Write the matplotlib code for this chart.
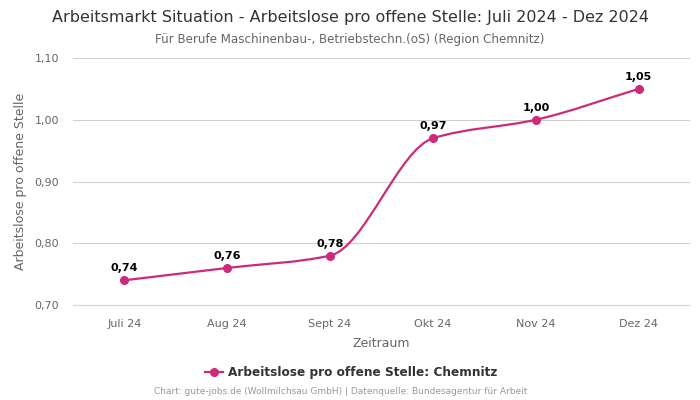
import matplotlib.pyplot as plt
import numpy as np
from matplotlib.path import Path
from matplotlib.patches import PathPatch

# Daten
monate = ["Juli 24", "Aug 24", "Sept 24", "Okt 24", "Nov 24", "Dez 24"]
werte = [0.74, 0.76, 0.78, 0.97, 1.00, 1.05]
farbe = "#cc2b7a"

plt.rcParams['font.family'] = ['DejaVu Sans']

fig = plt.figure(figsize=(7, 4), dpi=100)
ax = fig.add_axes([0.104, 0.2375, 0.882, 0.6175])

x = np.arange(len(werte), dtype=float)
y = np.array(werte)

# glatte Linie (monotone kubische Kurve, nur Darstellung)
d = np.diff(y) / np.diff(x)
m = np.zeros_like(y)
m[0], m[-1] = d[0], d[-1]
for i in range(1, len(y) - 1):
    if d[i - 1] * d[i] > 0:
        m[i] = 2 / (1 / d[i - 1] + 1 / d[i])
verts = [(x[0], y[0])]
codes = [Path.MOVETO]
for i in range(len(y) - 1):
    h = x[i + 1] - x[i]
    verts += [(x[i] + h / 3, y[i] + m[i] * h / 3),
              (x[i + 1] - h / 3, y[i + 1] - m[i + 1] * h / 3),
              (x[i + 1], y[i + 1])]
    codes += [Path.CURVE4] * 3
ax.add_patch(PathPatch(Path(verts, codes), facecolor="none", edgecolor=farbe, lw=1.6, zorder=3))
ax.plot(x, y, "o", color=farbe, ms=5.5, zorder=4)
# Legenden-Eintrag
ax.plot([], [], "-o", color=farbe, ms=5.5, lw=1.6, label="Arbeitslose pro offene Stelle: Chemnitz")

for xi, yi in zip(x, y):
    ax.annotate(f"{yi:.2f}".replace(".", ","), (xi, yi), xytext=(0, 5), textcoords="offset points",
                ha="center", va="bottom", fontsize=8, fontweight="bold", color="black")

ax.set_xlim(-0.5, 5.5)
ax.set_ylim(0.70, 1.10)
ax.set_xticks(x)
ax.set_xticklabels(monate)
yt = [0.70, 0.80, 0.90, 1.00, 1.10]
ax.set_yticks(yt)
ax.set_yticklabels([f"{v:.2f}".replace(".", ",") for v in yt])
ax.tick_params(axis="both", length=0, labelsize=8, labelcolor="#666666")
ax.tick_params(axis="x", pad=10)
ax.tick_params(axis="y", pad=10)
ax.grid(axis="y", color="#d0d0d0", lw=0.8)
ax.set_axisbelow(True)
for s in ["top", "right", "left"]:
    ax.spines[s].set_visible(False)
ax.spines["bottom"].set_color("#ccd6eb")

ax.set_xlabel("Zeitraum", fontsize=9, color="#666666", labelpad=6)
ax.set_ylabel("Arbeitslose pro offene Stelle", fontsize=9, color="#666666", labelpad=5)

fig.text(0.5, 0.956, "Arbeitsmarkt Situation - Arbeitslose pro offene Stelle: Juli 2024 - Dez 2024",
         ha="center", va="center", fontsize=11.5, color="#333333")
fig.text(0.5, 0.902, "Für Berufe Maschinenbau-, Betriebstechn.(oS) (Region Chemnitz)",
         ha="center", va="center", fontsize=8.6, color="#666666")
fig.legend(loc="center", bbox_to_anchor=(0.502, 0.068), frameon=False,
           prop={"size": 8.7, "weight": "bold"}, labelcolor="#333333", handlelength=1.5, handletextpad=0.4)
fig.text(0.486, 0.02, "Chart: gute-jobs.de (Wollmilchsau GmbH) | Datenquelle: Bundesagentur für Arbeit",
         ha="center", va="center", fontsize=6.5, color="#999999")

fig.savefig("out.png", dpi=100)
